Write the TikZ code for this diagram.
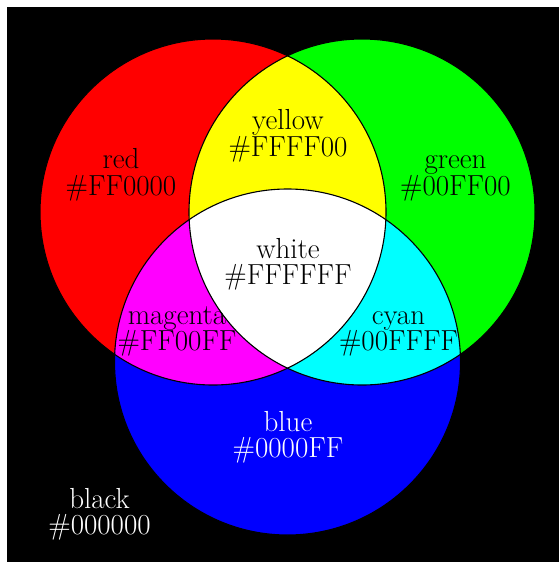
\documentclass[tikz,border=0pt]{standalone}
\definecolor{cR}{HTML}{FF0000}
\definecolor{cG}{HTML}{00FF00}
\definecolor{cB}{HTML}{0000FF}
\definecolor{cY}{HTML}{FFFF00}
\definecolor{cM}{HTML}{FF00FF}
\definecolor{cC}{HTML}{00FFFF}
\begin{document}
\begin{tikzpicture}[x=1pt,y=-1pt,
  lbl/.style={font=\fontsize{29}{26.5}\selectfont, align=center, inner sep=0pt},
  outline/.style={draw=black, line width=1.1pt}]
\useasboundingbox (0,0) rectangle (559,562);
\fill[black] (7,7) rectangle (559,562);
\def\R{173}
\coordinate (cr) at (213,212);
\coordinate (cg) at (362,212);
\coordinate (cb) at (287.5,362);
\fill[cR] (cr) circle[radius=\R];
\fill[cG] (cg) circle[radius=\R];
\fill[cB] (cb) circle[radius=\R];
\begin{scope}
  \clip (cr) circle[radius=\R];
  \fill[cY] (cg) circle[radius=\R];
  \fill[cM] (cb) circle[radius=\R];
\end{scope}
\begin{scope}
  \clip (cg) circle[radius=\R];
  \fill[cC] (cb) circle[radius=\R];
\end{scope}
\begin{scope}
  \clip (cr) circle[radius=\R];
  \clip (cg) circle[radius=\R];
  \fill[white] (cb) circle[radius=\R];
\end{scope}
\draw[outline] (cr) circle[radius=\R];
\draw[outline] (cg) circle[radius=\R];
\draw[outline] (cb) circle[radius=\R];
\node[lbl] (lred) at (121,175) {\vphantom{d}red\\\#FF0000};
\node[lbl] (lyellow) at (288,136) {\vphantom{d}yellow\\\#FFFF00};
\node[lbl] (lgreen) at (455.5,175) {\vphantom{d}green\\\#00FF00};
\node[lbl] (lwhite) at (288,264.5) {\vphantom{d}white\\\#FFFFFF};
\node[lbl] (lmagenta) at (177,330.5) {\vphantom{d}magenta\\\#FF00FF};
\node[lbl] (lcyan) at (398.5,330.5) {\vphantom{d}cyan\\\#00FFFF};
\node[lbl, text=white] (lblue) at (288,437.5) {\vphantom{d}blue\\\#0000FF};
\node[lbl, text=white] (lblack) at (99.5,514.5) {\vphantom{d}black\\\#000000};
\end{tikzpicture}
\end{document}
